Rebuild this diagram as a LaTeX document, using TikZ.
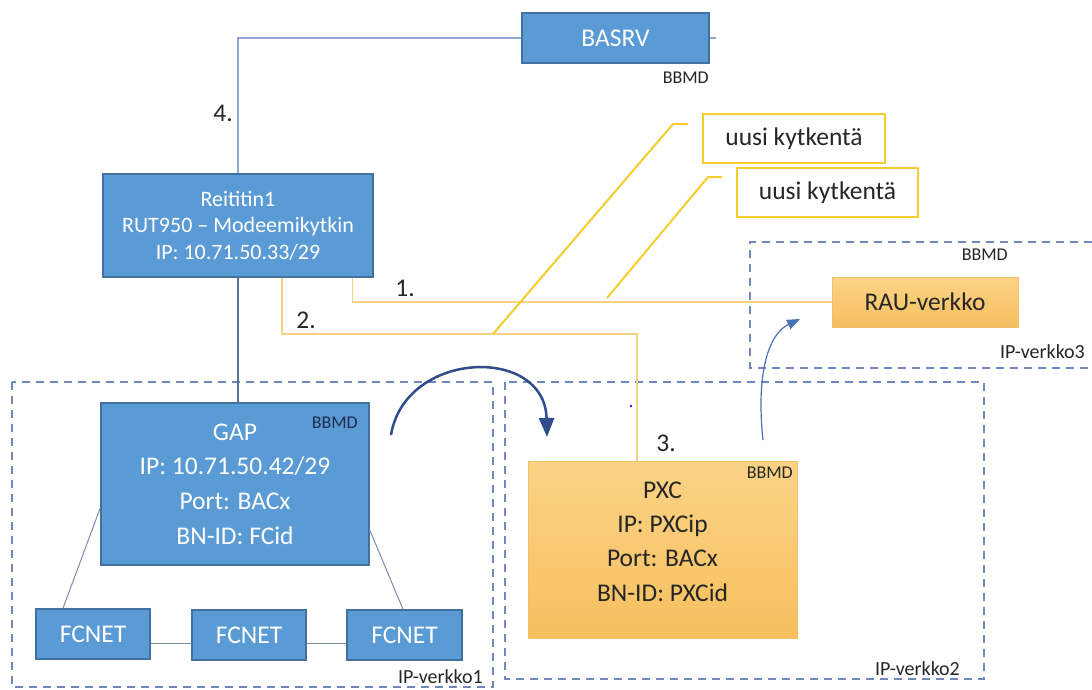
\documentclass[tikz,border=0pt]{standalone}
\usepackage{fontspec}
\setmainfont{Carlito}
\usetikzlibrary{arrows.meta}
\definecolor{boxblue}{HTML}{5B9BD5}
\definecolor{boxblueedge}{HTML}{41719C}
\definecolor{ortop}{HTML}{FBD386}
\definecolor{orbot}{HTML}{F6BF5E}
\definecolor{oredge}{HTML}{F1C06A}
\definecolor{callyellow}{HTML}{F5CD2E}
\definecolor{connyellow}{HTML}{F3D37F}
\definecolor{regionblue}{HTML}{7088BE}
\definecolor{linkblue}{HTML}{8EA6D2}
\definecolor{darklink}{HTML}{5C6F99}
\definecolor{arrownavy}{HTML}{2F4C8C}
\definecolor{arrowblue}{HTML}{4A70B8}
\definecolor{txt}{HTML}{262626}
\definecolor{navytxt}{HTML}{1F2D50}
\tikzset{
  bluebox/.style={rectangle, draw=boxblueedge, line width=1.5pt, fill=boxblue, text=white, inner sep=0pt, align=center, font=\fontsize{25.5}{30}\selectfont},
  orangebox/.style={rectangle, draw=oredge, line width=1pt, top color=ortop, bottom color=orbot, text=txt, inner sep=0pt, align=center, font=\fontsize{25.5}{30}\selectfont},
  callbox/.style={rectangle, draw=callyellow, line width=2.2pt, fill=white, text=txt, inner sep=0pt, font=\fontsize{25.5}{30}\selectfont},
  callline/.style={draw=callyellow, line width=2pt},
  yconn/.style={draw=connyellow, line width=1.2pt},
  graylink/.style={draw=linkblue, line width=1.5pt},
  darklinkstyle/.style={draw=darklink, line width=1.3pt},
  fclink/.style={draw=darklink!80, line width=1pt},
  region/.style={draw=regionblue, line width=1.5pt, dash pattern=on 8pt off 6pt},
  regionlabel/.style={text=txt, inner sep=0pt, font=\fontsize{20}{24}\selectfont},
  bbmd/.style={text=txt, inner sep=0pt, font=\fontsize{18}{21}\selectfont},
  numlabel/.style={text=txt, inner sep=0pt, font=\fontsize{25.5}{30}\selectfont},
  bigarrow/.style={draw=arrownavy, line width=2.5pt, -{Triangle[length=19pt,width=15pt]}},
  smallarrow/.style={draw=arrowblue, line width=1.2pt, -{Triangle[length=13pt,width=10pt]}}
}
\begin{document}
\begin{tikzpicture}[x=1pt,y=-1pt]
\useasboundingbox (0,0) rectangle (1092,689);
\fill[white] (0,0) rectangle (1092,689);

% regions
\draw[region] (12,382) rectangle (493,687);
\draw[region] (505,382) rectangle (984,679);
\draw[region] (1092,242) -- (750,242) -- (750,368) -- (1092,368);

% boxes
\node[bluebox, minimum width=187pt, minimum height=50pt] (bas) at (615.5,38) {BASRV};
\node[bluebox, minimum width=270pt, minimum height=103pt, font=\fontsize{22}{26.5}\selectfont] (reit) at (238,225.5)
  {Reititin1\\RUT950 – Modeemikytkin\\IP: 10.71.50.33/29};
\node[bluebox, minimum width=268pt, minimum height=162pt, font=\fontsize{25.5}{34.7}\selectfont] (gap) at (235,484)
  {GAP\\IP: 10.71.50.42/29\\Port: BACx\\BN-ID: FCid};
\node[bluebox, minimum width=114pt, minimum height=50pt] (fc1) at (93,634) {FCNET};
\node[bluebox, minimum width=114pt, minimum height=50pt] (fc2) at (249,635) {FCNET};
\node[bluebox, minimum width=115pt, minimum height=50pt] (fc3) at (404.5,635) {FCNET};
\node[orangebox, minimum width=269pt, minimum height=177pt] (pxc) at (662.5,549.5) {};
\node[text=txt, inner sep=0pt, align=center, font=\fontsize{25.5}{34.3}\selectfont] (pxctext) at ([yshift=8pt]pxc.center)
  {PXC\\IP: PXCip\\Port: BACx\\BN-ID: PXCid};
\node[orangebox, minimum width=186pt, minimum height=50pt] (rau) at (925,302) {RAU-verkko};
\node[callbox, minimum width=182pt, minimum height=49pt] (call1) at (794,138.5) {uusi kytkentä};
\node[callbox, minimum width=181pt, minimum height=49pt] (call2) at (827.5,192.5) {uusi kytkentä};

% coordinates
\coordinate (basstub) at (716,38);
\coordinate (y2corner) at (637,334);
\coordinate (c1s) at (688,124);
\coordinate (c1k) at (673,124);
\coordinate (c1e) at (493,334);
\coordinate (c2s) at (722,177);
\coordinate (c2k) at (708,177);
\coordinate (c2e) at (607,298);
\coordinate (arrA) at (391,435);
\coordinate (arrB) at (547,437);
\coordinate (sarrA) at (763,440);
\coordinate (sarrB) at (800,319);

% connectors
\draw[graylink] (bas.west) -| (reit.north);
\draw[graylink] (bas.east) -- (basstub);
\draw[darklinkstyle] (reit.south) -- (reit.south |- gap.north);
\draw[yconn] ([xshift=-21pt]reit.south east) |- (rau.west);
\draw[yconn] ([xshift=44pt]reit.south) |- (y2corner) -- (y2corner |- pxc.north);
\draw[fclink] ([yshift=-24pt]gap.west) -- ([xshift=-30pt]fc1.north);
\draw[fclink] ([yshift=-46pt]gap.east) -- ([xshift=-1.5pt]fc3.north);
\draw[fclink] ([yshift=-9pt]fc1.east) -- ([yshift=-8pt]fc2.west);
\draw[fclink] ([yshift=-8pt]fc2.east) -- ([yshift=-8pt]fc3.west);
\draw[callline] (c1s) -- (c1k) -- (c1e);
\draw[callline] (c2s) -- (c2k) -- (c2e);

% arrows
\draw[bigarrow] (arrA) .. controls (405,350) and (545,345) .. (arrB);
\draw[smallarrow] (sarrA) .. controls (756,375) and (768,334) .. (sarrB);
\fill[violet!70!blue] (631,406) circle (1.3);

% labels
\node[bbmd, anchor=east] (basbbmd) at (709,78) {BBMD};
\node[bbmd, anchor=east, text=navytxt] (gapbbmd) at (358,423) {BBMD};
\node[bbmd, anchor=east] (pxcbbmd) at (793,473) {BBMD};
\node[bbmd, anchor=east] (v3bbmd) at (1008,255) {BBMD};
\node[regionlabel, anchor=east] (v1lab) at (483,677) {IP-verkko1};
\node[regionlabel, anchor=east] (v2lab) at (960,669) {IP-verkko2};
\node[regionlabel, anchor=east] (v3lab) at (1085,352) {IP-verkko3};
\node[numlabel] (n4) at (223,113) {4.};
\node[numlabel] (n1) at (405,288) {1.};
\node[numlabel] (n2) at (306,320) {2.};
\node[numlabel] (n3) at (666,443) {3.};
\end{tikzpicture}
\end{document}
